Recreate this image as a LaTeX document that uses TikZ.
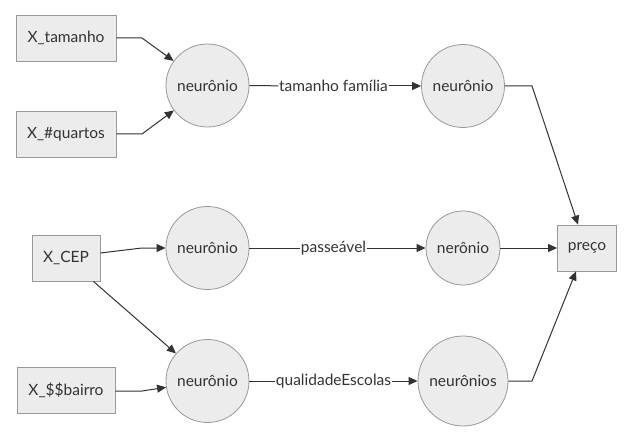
\documentclass[tikz,border=0pt]{standalone}
\usepackage{fontspec}
\setmainfont{Lato}
\usetikzlibrary{arrows.meta}
\definecolor{nfill}{HTML}{ECECEC}
\definecolor{nborder}{HTML}{999999}
\definecolor{ink}{HTML}{333333}
\begin{document}
\begin{tikzpicture}[x=1pt,y=-1pt,
  every node/.style={font=\fontsize{15.5}{18}\selectfont, text=ink},
  inbox/.style={draw=nborder, fill=nfill, line width=0.8pt, minimum height=46pt, inner sep=0pt},
  neuron/.style={circle, draw=nborder, fill=nfill, line width=0.8pt, inner sep=0pt},
  elabel/.style={inner sep=0.5pt},
  conn/.style={draw=ink, line width=1pt},
  arr/.style={conn, -{Triangle[length=9pt,width=8pt]}}
]
\useasboundingbox (0,0) rectangle (633,444);

% input boxes
\node[inbox, minimum width=100pt] (xt) at (66,38) {X\_tamanho};
\node[inbox, minimum width=100pt] (xq) at (66,134) {X\_\#quartos};
\node[inbox, minimum width=68pt] (xc) at (66,258) {X\_CEP};
\node[inbox, minimum width=98pt] (xb) at (66,390) {X\_\$\$bairro};

% neurons
\node[neuron, minimum size=83pt] (n1) at (207.5,85.5) {neurônio};
\node[neuron, minimum size=83pt] (n2) at (463,86) {neurônio};
\node[neuron, minimum size=83pt] (n3) at (207.5,248) {neurônio};
\node[neuron, minimum size=74pt] (n5) at (463,248) {nerônio};
\node[neuron, minimum size=83pt] (n4) at (207.5,381) {neurônio};
\node[neuron, minimum size=90pt] (n6) at (463,381) {neurônios};

% output
\node[inbox, minimum width=59pt] (pr) at (587,248) {preço};

% edge labels
\node[elabel] (l1) at (333.5,86) {tamanho família};
\node[elabel] (l2) at (333.5,248) {passeável};
\node[elabel] (l3) at (333.5,381) {qualidadeEscolas};

% bend points
\coordinate (b1) at (142,38);
\coordinate (b2) at (142,134);
\coordinate (b3) at (142,248);
\coordinate (b4) at (142,391);
\coordinate (b5) at (532,86);
\coordinate (b6) at (532,381);

% connectors
\draw[arr] (xt.east) -- (b1) -- (n1);
\draw[arr] (xq.east) -- (b2) -- (n1);
\draw[arr] ([yshift=5pt]xc.east) -- (b3) -- (n3);
\draw[arr] ([xshift=-7pt]xc.south east) -- (n4);
\draw[arr] ([yshift=-1pt]xb.east) -- (b4) -- (n4);

\draw[conn] (n1) -- (l1);
\draw[arr] (l1) -- (n2);
\draw[conn] (n3) -- (l2);
\draw[arr] (l2) -- (n5);
\draw[conn] (n4) -- (l3);
\draw[arr] (l3) -- (n6);

\draw[arr] (n2.east) -- (b5) -- ([xshift=-9pt]pr.north);
\draw[arr] (n5) -- (pr);
\draw[arr] (n6.east) -- (b6) -- ([xshift=-11pt]pr.south);
\end{tikzpicture}
\end{document}
